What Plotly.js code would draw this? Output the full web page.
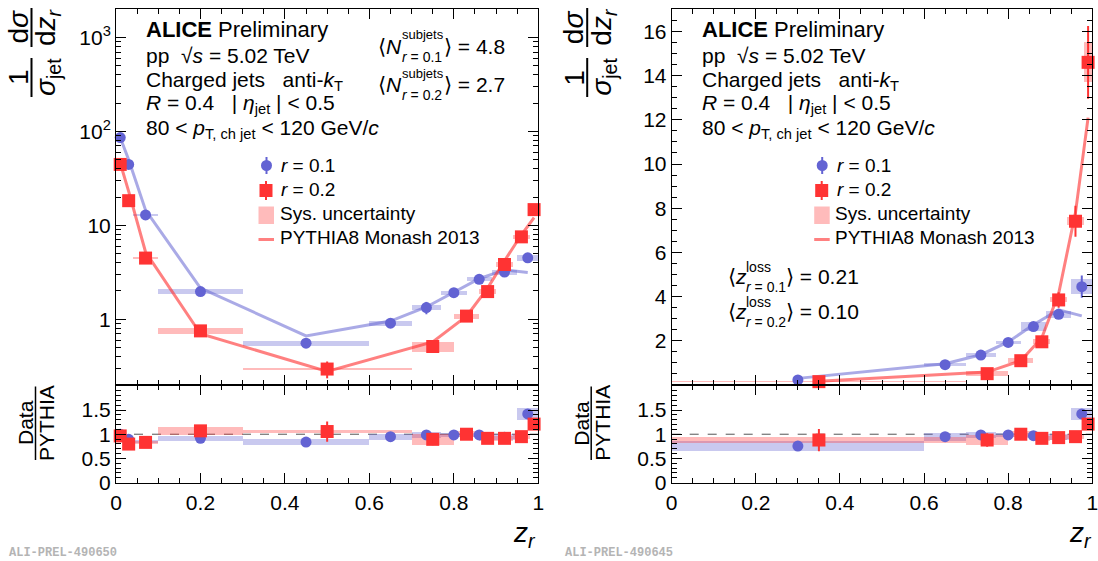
<!DOCTYPE html>
<html><head><meta charset="utf-8">
<script src="https://cdn.plot.ly/plotly-3.0.1.min.js"></script>
<style>html,body{margin:0;padding:0;background:#fff}#chart{width:1098px;height:561px}</style>
</head><body><div id="chart"></div>
<script>
// ================= DATA =================
// ---- Left figure (log scale, ALI-PREL-490650) ----
const L_r1_x      = [0.01, 0.03, 0.07, 0.2, 0.45, 0.65, 0.735, 0.8, 0.86, 0.92, 0.975];
const L_r1_y      = [86, 44.5, 12.9, 1.97, 0.556, 0.908, 1.33, 1.92, 2.66, 3.18, 4.51];
const L_r1_stat   = [1.0, 1.0, 0.3, 0.06, 0.03, 0.05, 0.2, 0.1, 0.12, 0.15, 0.3];
const L_r1_sys    = [2.6, 1.3, 0.4, 0.11, 0.035, 0.057, 0.08, 0.096, 0.133, 0.2, 0.37];
const L_r1_lo     = [0, 0.02, 0.04, 0.1, 0.3, 0.6, 0.7, 0.77, 0.83, 0.89, 0.95];
const L_r1_hi     = [0.02, 0.04, 0.1, 0.3, 0.6, 0.7, 0.77, 0.83, 0.89, 0.95, 1.0];
const L_r1_pythia = [86, 49.8, 14.5, 2.15, 0.665, 0.956, 1.35, 1.95, 2.70, 3.35, 3.15];
const L_r1_ratio      = [1.0, 0.894, 0.85, 0.915, 0.838, 0.95, 0.986, 0.986, 0.986, 0.937, 1.42];
const L_r1_ratioStat  = [0.03, 0.03, 0.03, 0.04, 0.05, 0.06, 0.1, 0.05, 0.05, 0.06, 0.07];
const L_r1_ratioSys   = [0.03, 0.03, 0.03, 0.05, 0.053, 0.06, 0.06, 0.05, 0.05, 0.06, 0.13];

const L_r2_x      = [0.01, 0.03, 0.07, 0.2, 0.5, 0.75, 0.83, 0.88, 0.92, 0.96, 0.99];
const L_r2_y      = [44.5, 18.3, 4.48, 0.752, 0.295, 0.513, 1.08, 1.97, 3.83, 7.54, 14.7];
const L_r2_stat   = [1.5, 0.6, 0.2, 0.05, 0.06, 0.07, 0.12, 0.2, 0.3, 0.6, 1.6];
const L_r2_sys    = [1.3, 0.55, 0.13, 0.056, 0.01, 0.062, 0.065, 0.11, 0.21, 0.4, 0.75];
const L_r2_lo     = [0, 0.02, 0.04, 0.1, 0.3, 0.7, 0.8, 0.86, 0.9, 0.94, 0.98];
const L_r2_hi     = [0.02, 0.04, 0.1, 0.3, 0.7, 0.8, 0.86, 0.9, 0.94, 0.98, 1.0];
const L_r2_pythia = [46.1, 23.0, 5.2, 0.70, 0.279, 0.574, 1.08, 2.15, 4.19, 7.94, 12.1];
const L_r2_ratio      = [0.965, 0.796, 0.831, 1.07, 1.056, 0.894, 1.0, 0.915, 0.915, 0.95, 1.21];
const L_r2_ratioStat  = [0.04, 0.04, 0.04, 0.1, 0.21, 0.12, 0.12, 0.1, 0.06, 0.05, 0.05];
const L_r2_ratioSys   = [0.03, 0.03, 0.03, 0.08, 0.035, 0.11, 0.06, 0.05, 0.05, 0.05, 0.05];

// ---- Right figure (linear scale, ALI-PREL-490645) ----
const R_r1_x      = [0.3, 0.65, 0.735, 0.8, 0.86, 0.92, 0.975];
const R_r1_y      = [0.227, 0.918, 1.354, 1.925, 2.646, 3.20, 4.45];
const R_r1_stat   = [0.02, 0.08, 0.2, 0.15, 0.15, 0.2, 0.5];
const R_r1_sys    = [0.02, 0.08, 0.1, 0.08, 0.19, 0.15, 0.33];
const R_r1_lo     = [0, 0.6, 0.7, 0.77, 0.83, 0.89, 0.95];
const R_r1_hi     = [0.6, 0.7, 0.77, 0.83, 0.89, 0.95, 1.0];
const R_r1_pythia = [0.30, 0.966, 1.37, 1.95, 2.73, 3.40, 3.13];
const R_r1_ratio      = [0.754, 0.95, 0.986, 0.986, 0.97, 0.94, 1.42];
const R_r1_ratioStat  = [0.06, 0.08, 0.1, 0.05, 0.05, 0.06, 0.07];
const R_r1_ratioSys   = [0.105, 0.08, 0.06, 0.05, 0.05, 0.06, 0.13];

const R_r2_x      = [0.35, 0.75, 0.83, 0.88, 0.92, 0.96, 0.99];
const R_r2_y      = [0.152, 0.513, 1.10, 1.955, 3.85, 7.41, 14.6];
const R_r2_stat   = [0.04, 0.08, 0.15, 0.2, 0.35, 0.7, 1.65];
const R_r2_sys    = [0.015, 0.1, 0.1, 0.11, 0.11, 0.19, 0.9];
const R_r2_lo     = [0, 0.7, 0.8, 0.86, 0.9, 0.94, 0.98];
const R_r2_hi     = [0.7, 0.8, 0.86, 0.9, 0.94, 0.98, 1.0];
const R_r2_pythia = [0.173, 0.583, 1.10, 2.14, 4.14, 7.8, 12.1];
const R_r2_ratio      = [0.88, 0.88, 1.0, 0.915, 0.93, 0.95, 1.21];
const R_r2_ratioStat  = [0.23, 0.14, 0.12, 0.1, 0.06, 0.05, 0.05];
const R_r2_ratioSys   = [0.07, 0.1, 0.06, 0.05, 0.05, 0.05, 0.05];

const xTickVals = [0, 0.2, 0.4, 0.6, 0.8, 1];
const xTickText = ['0', '0.2', '0.4', '0.6', '0.8', '1'];
const logTickVals = [1, 10, 100, 1000];
const logTickText = ['1', '10', '10<sup>2</sup>', '10<sup>3</sup>'];
const linTickVals = [2, 4, 6, 8, 10, 12, 14, 16];
const ratioTickVals = [0, 0.5, 1, 1.5];
const ratioTickText = ['0', '0.5', '1', '1.5'];
const legendLabels = ['<i>r</i> = 0.1', '<i>r</i> = 0.2', 'Sys. uncertainty', 'PYTHIA8 Monash 2013'];

// ================= STYLE =================
const W = 1098, H = 561;
const PX = v => v / W, PY = v => 1 - v / H;
const FONT = 'Liberation Sans, Arial, Helvetica, sans-serif';
const BLUE = '#6363d3', RED = '#ff3333';
const BLUE_SYS = 'rgba(100,100,210,0.35)', RED_SYS = 'rgba(255,60,60,0.35)';
const BLUE_LINE = 'rgba(100,100,210,0.55)', RED_LINE = 'rgba(255,50,50,0.62)';
const SZ_C = 11, SZ_S = 13;

function sysBars(lo, hi, y, sys, xa, ya, color, name) {
  return {
    type: 'bar', xaxis: xa, yaxis: ya,
    x: lo.map((l, i) => (l + hi[i]) / 2),
    width: lo.map((l, i) => hi[i] - l),
    base: y.map((v, i) => v - sys[i]),
    y: sys.map(s => 2 * s),
    marker: { color: color, line: { width: 0 } },
    name: name, showlegend: false, hoverinfo: 'skip'
  };
}
function pyLine(x, y, xa, ya, color) {
  return {
    type: 'scatter', mode: 'lines', xaxis: xa, yaxis: ya, x: x, y: y,
    line: { color: color, width: 3 }, name: legendLabels[3], showlegend: false, hoverinfo: 'skip'
  };
}
function pts(x, y, err, xa, ya, color, symbol, size, name) {
  return {
    type: 'scatter', mode: 'markers', xaxis: xa, yaxis: ya, x: x, y: y,
    marker: { color: color, symbol: symbol, size: size, line: { width: 0 } },
    error_y: { type: 'data', array: err, color: color, thickness: 2, width: 0 },
    cliponaxis: false, name: name, showlegend: false, hoverinfo: 'skip'
  };
}

const data = [
  // left main
  sysBars(L_r1_lo, L_r1_hi, L_r1_y, L_r1_sys, 'x', 'y', BLUE_SYS, legendLabels[2]),
  sysBars(L_r2_lo, L_r2_hi, L_r2_y, L_r2_sys, 'x', 'y', RED_SYS, legendLabels[2]),
  pyLine(L_r1_x, L_r1_pythia, 'x', 'y', BLUE_LINE),
  pyLine(L_r2_x, L_r2_pythia, 'x', 'y', RED_LINE),
  pts(L_r1_x, L_r1_y, L_r1_stat, 'x', 'y', BLUE, 'circle', SZ_C, legendLabels[0]),
  pts(L_r2_x, L_r2_y, L_r2_stat, 'x', 'y', RED, 'square', SZ_S, legendLabels[1]),
  // left ratio
  sysBars(L_r1_lo, L_r1_hi, L_r1_ratio, L_r1_ratioSys, 'x2', 'y2', BLUE_SYS, 'sys'),
  sysBars(L_r2_lo, L_r2_hi, L_r2_ratio, L_r2_ratioSys, 'x2', 'y2', RED_SYS, 'sys'),
  pts(L_r1_x, L_r1_ratio, L_r1_ratioStat, 'x2', 'y2', BLUE, 'circle', SZ_C, 'ratio r=0.1'),
  pts(L_r2_x, L_r2_ratio, L_r2_ratioStat, 'x2', 'y2', RED, 'square', SZ_S, 'ratio r=0.2'),
  // right main
  sysBars(R_r1_lo, R_r1_hi, R_r1_y, R_r1_sys, 'x3', 'y3', BLUE_SYS, legendLabels[2]),
  sysBars(R_r2_lo, R_r2_hi, R_r2_y, R_r2_sys, 'x3', 'y3', RED_SYS, legendLabels[2]),
  pyLine(R_r1_x, R_r1_pythia, 'x3', 'y3', BLUE_LINE),
  pyLine(R_r2_x, R_r2_pythia, 'x3', 'y3', RED_LINE),
  pts(R_r1_x, R_r1_y, R_r1_stat, 'x3', 'y3', BLUE, 'circle', SZ_C, legendLabels[0]),
  pts(R_r2_x, R_r2_y, R_r2_stat, 'x3', 'y3', RED, 'square', SZ_S, legendLabels[1]),
  // right ratio
  sysBars(R_r1_lo, R_r1_hi, R_r1_ratio, R_r1_ratioSys, 'x4', 'y4', BLUE_SYS, 'sys'),
  sysBars(R_r2_lo, R_r2_hi, R_r2_ratio, R_r2_ratioSys, 'x4', 'y4', RED_SYS, 'sys'),
  pts(R_r1_x, R_r1_ratio, R_r1_ratioStat, 'x4', 'y4', BLUE, 'circle', SZ_C, 'ratio r=0.1'),
  pts(R_r2_x, R_r2_ratio, R_r2_ratioStat, 'x4', 'y4', RED, 'square', SZ_S, 'ratio r=0.2')
];

// ---- axes ----
const LX = [PX(116), PX(538.3)], RX = [PX(671.7), PX(1092.3)];
const MAINY = [PY(385), PY(9.3)], RATY = [PY(482.5), PY(385)];
const base = {
  showline: true, linecolor: '#000', linewidth: 1, mirror: 'allticks',
  ticks: 'inside', ticklen: 10, tickwidth: 1, tickcolor: '#000',
  showgrid: false, zeroline: false, fixedrange: true, ticklabeloverflow: 'allow',
  tickfont: { family: FONT, size: 21, color: '#000' }
};
const xMinor = { ticks: 'inside', ticklen: 5, tickwidth: 1, tickcolor: '#000', dtick: 0.05, tick0: 0, showgrid: false };
const logMinorVals = [];
for (const d of [0.1, 1, 10, 100, 1000]) for (let k = 2; k <= 9; k++) logMinorVals.push(k * d);
const linMinorVals = [];
for (let v = 0; v <= 17; v += 0.5) linMinorVals.push(v);
const ratioMinorVals = [];
for (let v = 0; v <= 2.0001; v += 0.1) ratioMinorVals.push(+v.toFixed(2));

function xMain(dom, anchor) {
  return Object.assign({}, base, { domain: dom, anchor: anchor, range: [0, 1], tickmode: 'array', tickvals: xTickVals, showticklabels: false, minor: xMinor });
}
function xRatio(dom, anchor) {
  return Object.assign({}, base, { domain: dom, anchor: anchor, range: [0, 1], tickmode: 'array', tickvals: xTickVals, ticktext: xTickText, minor: xMinor, ticklabelstandoff: 1 });
}
function yRatio(anchor) {
  return Object.assign({}, base, { domain: RATY, anchor: anchor, range: [0, 2.02], tickmode: 'array', tickvals: ratioTickVals, ticktext: ratioTickText,
    minor: { ticks: 'inside', ticklen: 5, tickwidth: 1, tickcolor: '#000', tickmode: 'array', tickvals: ratioMinorVals, showgrid: false } });
}

// ---- annotations & shapes ----
const ann = [];
const shapes = [];
function txt(text, x, y, size, opts) {
  ann.push(Object.assign({ xref: 'paper', yref: 'paper', x: PX(x), y: PY(y), text: text, showarrow: false,
    xanchor: 'left', yanchor: 'middle', font: { family: FONT, size: size, color: '#000' } }, opts || {}));
}
function pline(x0, y0, x1, y1, color, width) {
  shapes.push({ type: 'line', xref: 'paper', yref: 'paper', x0: PX(x0), x1: PX(x1), y0: PY(y0), y1: PY(y1), line: { color: color, width: width } });
}
function prect(x0, y0, x1, y1, color) {
  shapes.push({ type: 'rect', xref: 'paper', yref: 'paper', x0: PX(x0), x1: PX(x1), y0: PY(y0), y1: PY(y1), fillcolor: color, line: { width: 0 } });
}
function pcirc(cx, cy, r, color) {
  shapes.push({ type: 'circle', xref: 'paper', yref: 'paper', x0: PX(cx - r), x1: PX(cx + r), y0: PY(cy + r), y1: PY(cy - r), fillcolor: color, line: { width: 0 } });
}

function panelText(dx) {
  txt('<b>ALICE</b> Preliminary', 144 + dx, 29, 22);
  txt('pp  √<i>s</i> = 5.02 TeV', 144 + dx, 55.5, 21);
  txt('Charged jets   anti-<i>k</i><sub>T</sub>', 144 + dx, 81, 21);
  txt('<i>R</i> = 0.4   | <i>η</i><sub>jet</sub> | &lt; 0.5', 144 + dx, 104, 21);
  txt('80 &lt; <i>p</i><sub>T, ch jet</sub> &lt; 120 GeV/<i>c</i>', 144 + dx, 129, 21);
  // y title (main)
  txt('1', 18.5 + dx, 77.5, 28, { xanchor: 'center', textangle: -90 });
  txt('d<i>σ</i>', 18.5 + dx, 27, 28, { xanchor: 'center', textangle: -90 });
  txt('<i>σ</i><sub>jet</sub>', 48 + dx, 77, 28, { xanchor: 'center', textangle: -90 });
  txt('d<i>z</i><sub><i>r</i></sub>', 48 + dx, 27, 28, { xanchor: 'center', textangle: -90 });
  pline(31.5 + dx, 58, 31.5 + dx, 97, '#000', 2);
  pline(31.5 + dx, 8, 31.5 + dx, 47, '#000', 2);
  // ratio y title
  txt('Data', 25 + dx, 423, 21, { xanchor: 'center', textangle: -90 });
  txt('PYTHIA', 46 + dx, 423, 21, { xanchor: 'center', textangle: -90 });
  pline(35.5 + dx, 386.5, 35.5 + dx, 460, '#000', 1.5);
  // x title
  txt('<i>z</i><sub><i>r</i></sub>', 538 + dx, 534, 28, { xanchor: 'right' });
  // legend (manual, ROOT style)
  pline(266.5 + dx, 157, 266.5 + dx, 174, BLUE, 2);
  pcirc(266.5 + dx, 165.5, SZ_C / 2, BLUE);
  pline(266 + dx, 181, 266 + dx, 200, RED, 2);
  prect(266 + dx - SZ_S / 2, 190.5 - SZ_S / 2, 266 + dx + SZ_S / 2, 190.5 + SZ_S / 2, RED);
  prect(258.5 + dx, 206.5, 274 + dx, 224, RED_SYS);
  pline(258.5 + dx, 239.5, 274 + dx, 239.5, RED_LINE, 3);
  txt(legendLabels[0], 279 + dx, 165.5, 19);
  txt(legendLabels[1], 279 + dx, 190, 19);
  txt(legendLabels[2], 277.5 + dx, 213.5, 19);
  txt(legendLabels[3], 277.5 + dx, 237.5, 19);
}
panelText(0);
panelText(555.7);

// <N subjets>
txt('⟨<i>N</i>', 376, 46.7, 21);
txt('subjets', 400, 35, 13);
txt('<i>r</i> = 0.1', 400, 57, 14);
txt('⟩ = 4.8', 442, 46.7, 21);
txt('⟨<i>N</i>', 376, 84.7, 21);
txt('subjets', 400, 73, 13);
txt('<i>r</i> = 0.2', 400, 95, 14);
txt('⟩ = 2.7', 442, 84.7, 21);
// <z loss>
txt('⟨<i>z</i>', 726, 276.7, 21);
txt('loss', 744, 266.5, 14);
txt('<i>r</i> = 0.1', 744, 286.5, 14);
txt('⟩ = 0.21', 784, 276.7, 21);
txt('⟨<i>z</i>', 726, 311.7, 21);
txt('loss', 744, 302, 14);
txt('<i>r</i> = 0.2', 744, 322, 14);
txt('⟩ = 0.10', 784, 311.7, 21);
// preliminary IDs
const idFont = { family: 'Liberation Mono, Courier New, monospace', size: 12, color: '#b4b4b4' };
txt('<b>ALI-PREL-490650</b>', 7, 552.5, 12, { font: idFont });
txt('<b>ALI-PREL-490645</b>', 563, 552.5, 12, { font: idFont });

// dashed unity lines in ratio panels
shapes.push({ type: 'line', xref: 'x2 domain', yref: 'y2', x0: 0, x1: 1, y0: 1, y1: 1, line: { color: '#555', width: 1, dash: 'dash' }, layer: 'below' });
shapes.push({ type: 'line', xref: 'x4 domain', yref: 'y4', x0: 0, x1: 1, y0: 1, y1: 1, line: { color: '#555', width: 1, dash: 'dash' }, layer: 'below' });

const layout = {
  width: W, height: H, margin: { l: 0, r: 0, t: 0, b: 0 },
  paper_bgcolor: '#fff', plot_bgcolor: 'rgba(0,0,0,0)',
  barmode: 'overlay', bargap: 0, showlegend: false,
  xaxis: xMain(LX, 'y'),
  yaxis: Object.assign({}, base, { domain: MAINY, anchor: 'x', type: 'log', range: [-0.70, 3.30], tickmode: 'array', tickvals: logTickVals, ticktext: logTickText,
    minor: { ticks: 'inside', ticklen: 5, tickwidth: 1, tickcolor: '#000', tickmode: 'array', tickvals: logMinorVals, showgrid: false } }),
  xaxis2: xRatio(LX, 'y2'),
  yaxis2: yRatio('x2'),
  xaxis3: xMain(RX, 'y3'),
  yaxis3: Object.assign({}, base, { domain: MAINY, anchor: 'x3', range: [0, 17], tickmode: 'array', tickvals: linTickVals,
    minor: { ticks: 'inside', ticklen: 5, tickwidth: 1, tickcolor: '#000', tickmode: 'array', tickvals: linMinorVals, showgrid: false } }),
  xaxis4: xRatio(RX, 'y4'),
  yaxis4: yRatio('x4'),
  annotations: ann, shapes: shapes
};

Plotly.newPlot('chart', data, layout, { staticPlot: true, displayModeBar: false });
</script>
</body></html>
